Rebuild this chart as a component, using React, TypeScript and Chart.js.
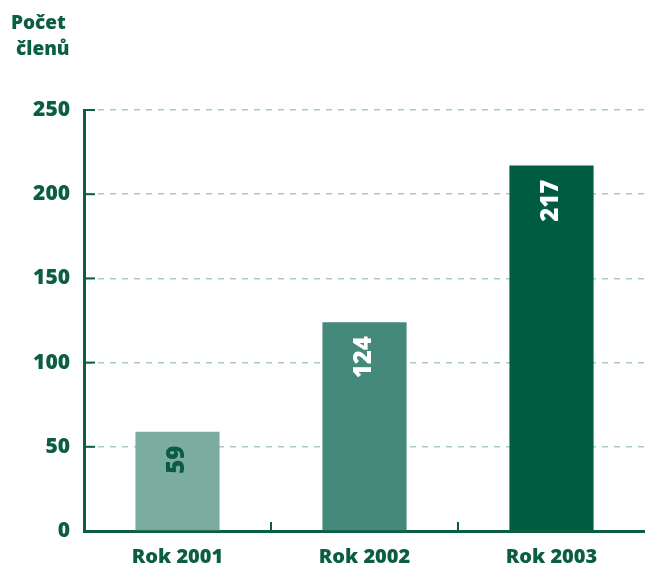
import React, { useEffect, useRef } from "react";
import { Chart, registerables } from "chart.js";

Chart.register(...registerables);

const categories = ["Rok 2001", "Rok 2002", "Rok 2003"];
const members = [59, 124, 217];
const barColors = ["#7BAC9F", "#44897A", "#005C40"];
const labelColors = ["#0B5B42", "#FFFFFF", "#FFFFFF"];
const yTicks = [0, 50, 100, 150, 200, 250];
const titleLines = ["Počet", "členů"];

const GREEN = "#0B5E44";
const FONT = "'Open Sans', 'Noto Sans', sans-serif";

const decorPlugin = {
  id: "decor",
  afterDatasetsDraw(chart: any) {
    const { ctx, chartArea, scales } = chart;
    const x = scales.x;
    const y = scales.y;
    ctx.save();
    ctx.strokeStyle = GREEN;
    ctx.lineWidth = 2;
    yTicks.forEach((v) => {
      const py = y.getPixelForValue(v);
      ctx.beginPath();
      ctx.moveTo(chartArea.left, py);
      ctx.lineTo(chartArea.left + 11, py);
      ctx.stroke();
    });
    for (let i = 1; i < categories.length; i++) {
      const px = (x.getPixelForValue(i - 1) + x.getPixelForValue(i)) / 2;
      ctx.beginPath();
      ctx.moveTo(px, chartArea.bottom);
      ctx.lineTo(px, chartArea.bottom - 9);
      ctx.stroke();
    }
    const meta = chart.getDatasetMeta(0);
    ctx.font = `800 24px ${FONT}`;
    ctx.textBaseline = "middle";
    ctx.textAlign = "right";
    meta.data.forEach((bar: any, i: number) => {
      ctx.save();
      ctx.translate(bar.x, bar.y + 14);
      ctx.rotate(-Math.PI / 2);
      ctx.fillStyle = labelColors[i];
      ctx.fillText(String(members[i]), 0, 0);
      ctx.restore();
    });
    ctx.fillStyle = GREEN;
    ctx.font = `800 19px ${FONT}`;
    ctx.textAlign = "left";
    ctx.textBaseline = "alphabetic";
    ctx.fillText(titleLines[0], 11, 29);
    ctx.fillText(titleLines[1], 16, 55);
    ctx.restore();
  },
};

export default function App() {
  const ref = useRef<HTMLCanvasElement | null>(null);
  useEffect(() => {
    if (!ref.current) return;
    const chart = new Chart(ref.current, {
      type: "bar",
      data: {
        labels: categories,
        datasets: [
          {
            data: members,
            backgroundColor: barColors,
            barPercentage: 0.9,
            categoryPercentage: 0.5,
          },
        ],
      },
      options: {
        animation: false,
        responsive: false,
        maintainAspectRatio: false,
        layout: { padding: { top: 110, left: 0, right: 0, bottom: 0 } },
        plugins: {
          legend: { display: false },
          tooltip: { enabled: false },
          title: { display: false },
        },
        scales: {
          x: {
            grid: { display: false, drawTicks: false },
            border: { display: true, color: GREEN, width: 3 },
            ticks: {
              color: GREEN,
              font: { family: FONT, size: 20, weight: 800 as any },
              padding: 14,
            },
            afterFit: (s: any) => {
              s.height = 36;
            },
          },
          y: {
            min: 0,
            max: 250,
            afterBuildTicks: (s: any) => {
              s.ticks = yTicks.map((v) => ({ value: v }));
            },
            grid: {
              drawTicks: false,
              color: (c: any) => (c.tick && c.tick.value === 0 ? "rgba(0,0,0,0)" : "#A8CBBF"),
              lineWidth: 1.5,
            },
            border: { display: true, color: GREEN, width: 3, dash: [6, 6], dashOffset: 0 } as any,
            ticks: {
              color: GREEN,
              font: { family: FONT, size: 21, weight: 800 as any },
              padding: 14,
            },
            afterFit: (s: any) => {
              s.width = 84;
            },
          },
        },
      },
      plugins: [decorPlugin],
    });
    return () => chart.destroy();
  }, []);
  return (
    <div style={{ position: "absolute", left: 0, top: 0, width: 645, height: 567, background: "#fff" }}>
      <canvas ref={ref} width={645} height={567} />
    </div>
  );
}
